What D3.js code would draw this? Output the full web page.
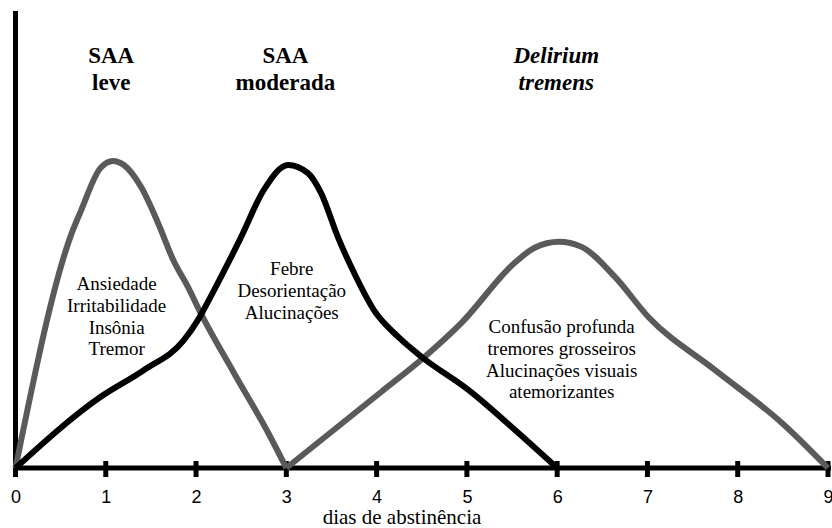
<!DOCTYPE html>
<html>
<head>
<meta charset="utf-8">
<script src="https://cdn.jsdelivr.net/npm/d3@7"></script>
<style>
  html, body { margin: 0; padding: 0; background: #fff; }
  svg { display: block; }
  .serif { font-family: 'Liberation Serif', 'Times New Roman', Times, serif; }
  .sans { font-family: 'Liberation Sans', Arial, Helvetica, sans-serif; }
</style>
</head>
<body>
<svg id="chart" width="832" height="528"></svg>
<script>
// ---- data ----
const xTicks = [0, 1, 2, 3, 4, 5, 6, 7, 8, 9];
const xTitle = "dias de abstinência";

// SAA leve (gray)
const leveX = [0, 0.63, 0.72, 0.94, 1.08, 1.2, 1.39, 1.58, 1.75, 1.91, 2.05, 2.42, 2.8, 3];
const leveY = [0, 52, 56.3, 65.9, 67.5, 66.6, 61.8, 53.8, 45.6, 39.8, 34.1, 20.9, 7.7, 0];

// SAA moderada (black)
const modX = [0, 0.94, 1.42, 1.865, 2.02, 2.2, 2.5, 2.75, 3.02, 3.24, 3.385, 3.57, 3.75, 3.97, 4.24, 4.5, 5.02, 5.53, 6];
const modY = [0, 15.6, 21.5, 28.1, 32.5, 39.1, 50.8, 61.1, 66.6, 64.8, 60.4, 50.8, 42.9, 34.7, 28.8, 24.4, 17.1, 8.4, 0];

// Delirium tremens (gray)
const dtX = [3, 4.05, 4.53, 4.94, 5.53, 5.75, 6.02, 6.27, 6.64, 7.01, 7.75, 8.49, 9];
const dtY = [0, 16.7, 24.4, 31.9, 45.1, 48.4, 49.7, 48.6, 42.0, 33.2, 21.5, 9.9, 0];

const headers = [
  { x: 1.06, lines: ["SAA", "leve"], italic: false },
  { x: 2.99, lines: ["SAA", "moderada"], italic: false },
  { x: 5.99, lines: ["Delirium", "tremens"], italic: true }
];
const notes = [
  { x: 1.12, y0: 290, lines: ["Ansiedade", "Irritabilidade", "Insônia", "Tremor"] },
  { x: 3.06, y0: 275, lines: ["Febre", "Desorientação", "Alucinações"] },
  { x: 6.05, y0: 333, lines: ["Confusão profunda", "tremores grosseiros", "Alucinações visuais", "atemorizantes"] }
];

// ---- chart ----
const svg = d3.select("#chart");
const x = d3.scaleLinear().domain([0, 9]).range([15.5, 828]);
const y = d3.scaleLinear().domain([0, 100]).range([468, 13]);
const gray = "#5a5a5a";

// y axis line
svg.append("line")
  .attr("x1", x(0)).attr("x2", x(0))
  .attr("y1", 11).attr("y2", y(0) + 2.5)
  .attr("stroke", "#000").attr("stroke-width", 5);

// x axis
const xAxis = d3.axisBottom(x).tickValues(xTicks).tickFormat(d3.format("d")).tickSize(0).tickPadding(0);
const gx = svg.append("g").attr("transform", `translate(0,${y(0)})`).call(xAxis);
gx.attr("font-family", null).attr("font-size", null);
gx.select(".domain").remove();
gx.selectAll(".tick line").remove();
gx.selectAll(".tick text")
  .attr("class", "sans")
  .attr("y", 35).attr("dy", null)
  .style("font-size", "18px").attr("fill", "#000");
svg.append("line")
  .attr("x1", x(0) - 2.5).attr("x2", x(9) + 3)
  .attr("y1", y(0)).attr("y2", y(0))
  .attr("stroke", "#000").attr("stroke-width", 5);
svg.selectAll(".tickmark").data(xTicks).enter().append("line")
  .attr("class", "tickmark")
  .attr("x1", d => x(d)).attr("x2", d => x(d))
  .attr("y1", y(0) - 7).attr("y2", y(0) + 9)
  .attr("stroke", "#000").attr("stroke-width", 5);

svg.append("text")
  .attr("class", "serif")
  .attr("x", 402).attr("y", 524)
  .attr("text-anchor", "middle")
  .style("font-size", "21px")
  .text(xTitle);

// curves
const line = d3.line().x(d => x(d[0])).y(d => y(d[1])).curve(d3.curveMonotoneX);
const series = [
  { xs: leveX, ys: leveY, color: gray },
  { xs: dtX, ys: dtY, color: gray },
  { xs: modX, ys: modY, color: "#000" }
];
series.forEach(s => {
  svg.append("path")
    .datum(s.xs.map((v, i) => [v, s.ys[i]]))
    .attr("d", line)
    .attr("fill", "none")
    .attr("stroke", s.color)
    .attr("stroke-width", 6)
    .attr("stroke-linejoin", "round")
    .attr("stroke-linecap", "butt");
});

// headers
headers.forEach(h => {
  const t = svg.append("text")
    .attr("class", "serif")
    .attr("text-anchor", "middle")
    .style("font-size", "23px")
    .style("font-weight", "bold")
    .style("font-style", h.italic ? "italic" : "normal");
  h.lines.forEach((l, i) => {
    t.append("tspan").attr("x", x(h.x)).attr("y", 63 + i * 27).text(l);
  });
});

// notes
notes.forEach(n => {
  const t = svg.append("text")
    .attr("class", "serif")
    .attr("text-anchor", "middle")
    .style("font-size", "19px");
  n.lines.forEach((l, i) => {
    t.append("tspan").attr("x", x(n.x)).attr("y", n.y0 + i * 21.8).text(l);
  });
});
</script>
</body>
</html>
